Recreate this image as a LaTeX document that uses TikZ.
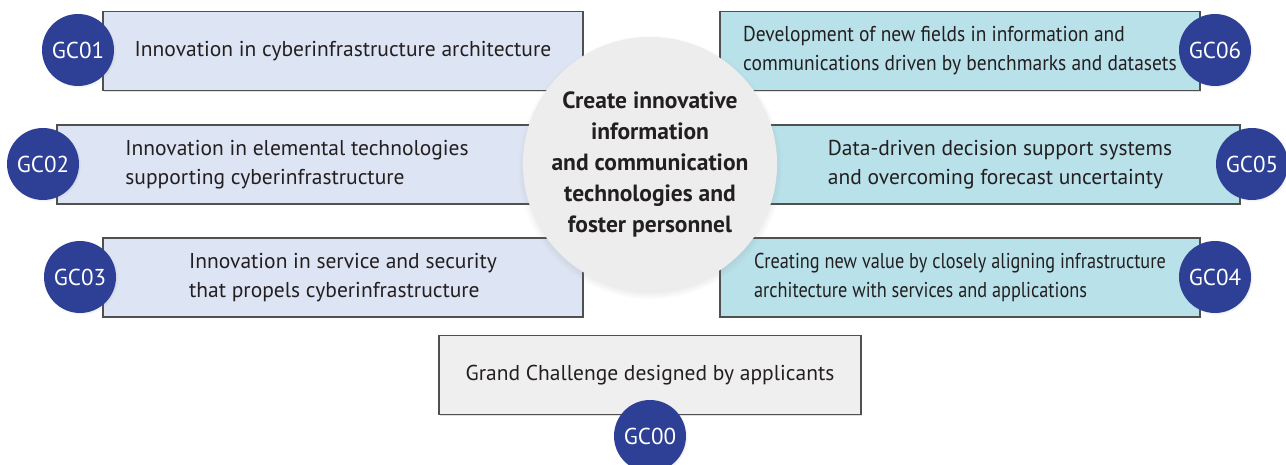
\documentclass[tikz,border=0pt]{standalone}
\usepackage{fontspec}
\setmainfont{PT Sans}
\newfontfamily\narrowfont[FakeStretch=0.85]{PT Sans}
\newfontfamily\semifont[FakeStretch=0.905]{PT Sans}
\usetikzlibrary{shadows}
\definecolor{gcblue}{RGB}{46,64,150}
\definecolor{leftfill}{RGB}{221,228,243}
\definecolor{rightfill}{RGB}{185,225,234}
\definecolor{ownfill}{RGB}{239,239,239}
\definecolor{hubfill}{RGB}{237,237,237}
\definecolor{boxline}{RGB}{80,80,80}
\definecolor{ink}{RGB}{35,31,32}
\tikzset{
  gcbox/.style={draw=boxline, line width=1.3pt, minimum width=480, minimum height=79,
    align=left, text=ink, font=\fontsize{21.5}{29}\selectfont,
    drop shadow={shadow xshift=1pt, shadow yshift=-1.5pt, opacity=0.25}},
  leftbox/.style={gcbox, fill=leftfill},
  rightbox/.style={gcbox, fill=rightfill},
  hub/.style={circle, fill=hubfill, minimum size=250, align=center, text=ink,
    font=\fontsize{23.5}{31}\bfseries\selectfont,
    circular drop shadow={shadow scale=1.04, shadow xshift=0pt, shadow yshift=-3pt, opacity=0.35}},
  badge/.style={circle, fill=gcblue, minimum size=72, inner sep=0pt, text=white,
    font=\fontsize{23}{23}\selectfont,
    circular drop shadow={shadow scale=1.03, shadow xshift=1pt, shadow yshift=-1pt, opacity=0.25}}
}
\newcommand{\badge}[3]{\node[badge] (#1) at (#2,#3) {#1};}

\begin{document}
\begin{tikzpicture}[x=1pt, y=-1pt]
    \useasboundingbox (0,0) rectangle (1286,465);
    % left column
    \node[leftbox] (T1) at (343,51) {Innovation in cyberinfrastructure architecture};
    \node[leftbox] (T2) at (297,164.5) {Innovation in elemental technologies\\supporting cyberinfrastructure};
    \node[leftbox] (T3) at (343,277.5) {Innovation in service and security\\that propels cyberinfrastructure};
    % right column
    \node[rightbox] (T6) at (960,51) {\semifont Development of new fields in information and\\\semifont communications driven by benchmarks and datasets};
    \node[rightbox] (T5) at (1000,164.5) {Data-driven decision support systems\\and overcoming forecast uncertainty};
    \node[rightbox] (T4) at (960,277.5) {\narrowfont Creating new value by closely aligning infrastructure\\\narrowfont architecture with services and applications};
    \node[gcbox, fill=ownfill, minimum width=422] (T0) at (650,375) {Grand Challenge designed by applicants};

    \node[hub] (hub) at (650,164) {Create innovative\\information\\and communication\\technologies and\\foster personnel};

    \badge{GC01}{78}{50}    \badge{GC02}{43}{164}
    \badge{GC03}{80}{277}   \badge{GC06}{1215}{50}
    \badge{GC05}{1252}{164} \badge{GC04}{1215}{277}
    \badge{GC00}{650}{436}
\end{tikzpicture}
\end{document}
